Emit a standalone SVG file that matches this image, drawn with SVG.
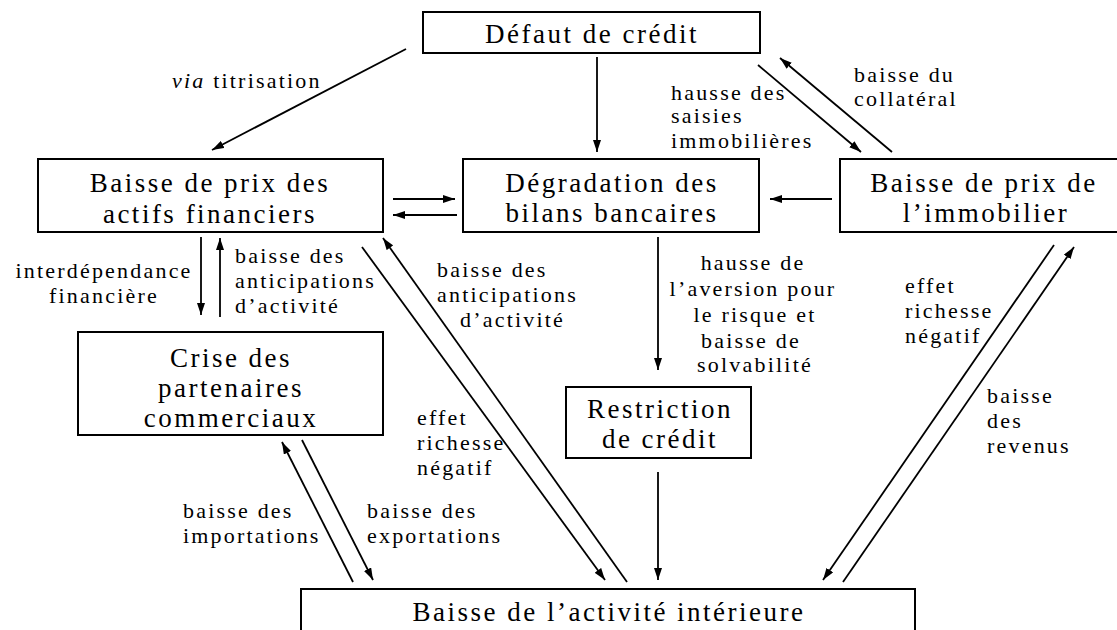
<svg xmlns="http://www.w3.org/2000/svg" width="1117" height="630" viewBox="0 0 1117 630">
<style>
.box{fill:#fff;stroke:#000;stroke-width:2}
.nt{font-family:"Liberation Serif","Times New Roman",serif;font-size:27px;letter-spacing:2.5px;text-anchor:middle;fill:#000}
.lb{font-family:"Liberation Serif","Times New Roman",serif;font-size:22px;letter-spacing:2.2px;fill:#000}
.lc{text-anchor:middle}
.ln{stroke:#000;stroke-width:1.8;fill:none;marker-end:url(#ah)}
</style>
<defs>
<marker id="ah" markerUnits="userSpaceOnUse" markerWidth="13" markerHeight="8" refX="12" refY="4" orient="auto">
<path d="M0,0 L12,4 L0,8 z" fill="#000"/>
</marker>
</defs>
<rect width="1117" height="630" fill="#fff"/>

<g id="connectors">
<line class="ln" x1="406" y1="49" x2="212" y2="150"/>
<line class="ln" x1="597" y1="57" x2="597" y2="152"/>
<line class="ln" x1="758" y1="65" x2="861" y2="152"/>
<line class="ln" x1="892" y1="152" x2="780" y2="58"/>
<line class="ln" x1="393" y1="199" x2="455" y2="199"/>
<line class="ln" x1="457" y1="215" x2="393" y2="215"/>
<line class="ln" x1="832" y1="199" x2="770" y2="199"/>
<line class="ln" x1="201" y1="237" x2="201" y2="315"/>
<line class="ln" x1="220" y1="317" x2="220" y2="238"/>
<line class="ln" x1="362" y1="247" x2="605" y2="580"/>
<line class="ln" x1="627" y1="582" x2="383" y2="238"/>
<line class="ln" x1="658" y1="237" x2="658" y2="370"/>
<line class="ln" x1="658" y1="472" x2="658" y2="580"/>
<line class="ln" x1="1054" y1="245" x2="823" y2="580"/>
<line class="ln" x1="843" y1="582" x2="1074" y2="247"/>
<line class="ln" x1="353" y1="582" x2="282" y2="442"/>
<line class="ln" x1="302" y1="440" x2="373" y2="580"/>
</g>

<g id="labels">
<text class="lb" x="172" y="88"><tspan font-style="italic">via</tspan> titrisation</text>
<text class="lb" x="671" y="100">hausse des</text>
<text class="lb" x="671" y="123">saisies</text>
<text class="lb" x="671" y="148">immobilières</text>
<text class="lb" x="854" y="82">baisse du</text>
<text class="lb" x="854" y="106">collatéral</text>
<text class="lb lc" x="104" y="278">interdépendance</text>
<text class="lb lc" x="104" y="303">financière</text>
<text class="lb" x="235" y="263">baisse des</text>
<text class="lb" x="235" y="288">anticipations</text>
<text class="lb" x="235" y="313">d’activité</text>
<text class="lb" x="437" y="277">baisse des</text>
<text class="lb" x="437" y="302">anticipations</text>
<text class="lb" x="460" y="327">d’activité</text>
<text class="lb lc" x="753" y="270">hausse de</text>
<text class="lb lc" x="753" y="296">l’aversion pour</text>
<text class="lb lc" x="755" y="322">le risque et</text>
<text class="lb lc" x="751" y="348">baisse de</text>
<text class="lb lc" x="755" y="372">solvabilité</text>
<text class="lb" x="905" y="293">effet</text>
<text class="lb" x="905" y="318">richesse</text>
<text class="lb" x="905" y="343">négatif</text>
<text class="lb" x="987" y="403">baisse</text>
<text class="lb" x="987" y="428">des</text>
<text class="lb" x="987" y="453">revenus</text>
<text class="lb" x="417" y="425">effet</text>
<text class="lb" x="417" y="450">richesse</text>
<text class="lb" x="417" y="475">négatif</text>
<text class="lb" x="183" y="518">baisse des</text>
<text class="lb" x="183" y="543">importations</text>
<text class="lb" x="367" y="518">baisse des</text>
<text class="lb" x="367" y="543">exportations</text>
</g>

<g id="defaut">
<rect class="box" x="423" y="12" width="337" height="41"/>
<text class="nt" x="592" y="43">Défaut de crédit</text>
</g>
<g id="actifs">
<rect class="box" x="38" y="159" width="345" height="73"/>
<text class="nt" x="210" y="192">Baisse de prix des</text>
<text class="nt" x="210" y="223">actifs financiers</text>
</g>
<g id="bilans">
<rect class="box" x="463" y="159" width="296" height="73"/>
<text class="nt" x="612" y="192">Dégradation des</text>
<text class="nt" x="612" y="222">bilans bancaires</text>
</g>
<g id="immobilier">
<rect class="box" x="840" y="159" width="285" height="73"/>
<text class="nt" x="984" y="192">Baisse de prix de</text>
<text class="nt" x="986" y="222">l’immobilier</text>
</g>
<g id="partenaires">
<rect class="box" x="78" y="332" width="305" height="103"/>
<text class="nt" x="231" y="367">Crise des</text>
<text class="nt" x="231" y="397">partenaires</text>
<text class="nt" x="231" y="427">commerciaux</text>
</g>
<g id="restriction">
<rect class="box" x="566" y="387" width="185" height="71"/>
<text class="nt" x="660" y="418">Restriction</text>
<text class="nt" x="660" y="448">de crédit</text>
</g>
<g id="activite">
<rect class="box" x="301" y="589" width="614" height="50"/>
<text class="nt" x="609" y="621">Baisse de l’activité intérieure</text>
</g>
</svg>
